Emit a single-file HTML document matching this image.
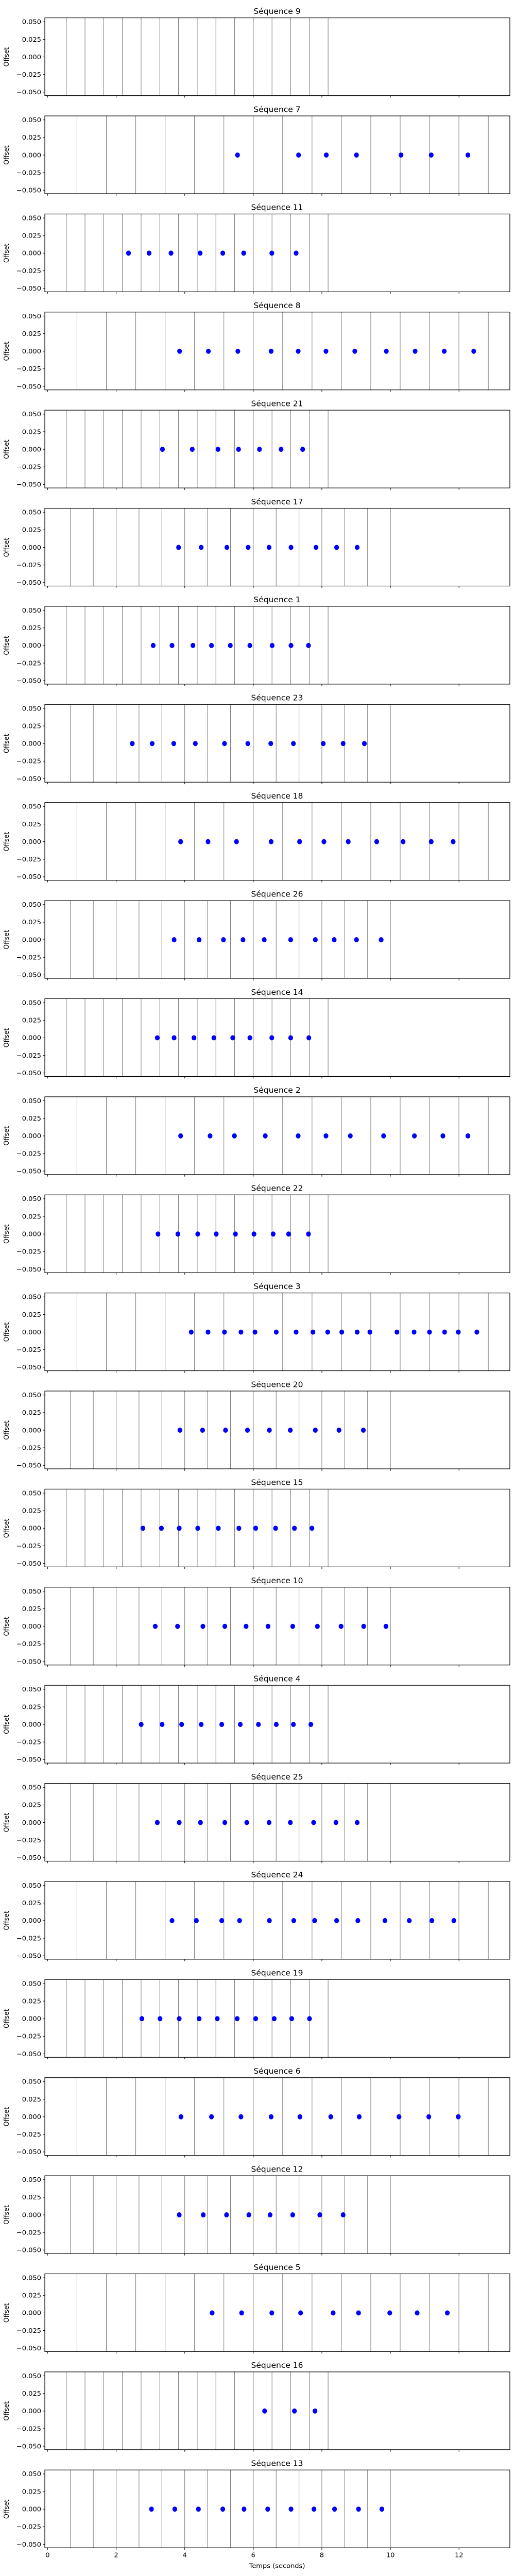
<!DOCTYPE html>
<html><head><meta charset="utf-8">
<style>
html,body{margin:0;padding:0;background:#fff;width:100vw;height:100vh;overflow:hidden;}
svg{display:block;position:absolute;left:0;top:0;width:100vw;height:100vh;font-family:"DejaVu Sans","Liberation Sans",sans-serif;}
</style></head>
<body>
<svg id="chart" viewBox="0 0 1000 5200" preserveAspectRatio="none" xmlns="http://www.w3.org/2000/svg"></svg>
<script>
const sequenceNames = ["9","7","11","8","21","17","1","23","18","26","14","2","22","3","20","15","10","4","25","24","19","6","12","5","16","13"];
const beatIntervals = [0.5455,0.857,0.5455,0.857,0.5455,0.6667,0.5455,0.6667,0.857,0.6667,0.5455,0.857,0.5455,0.857,0.6667,0.5455,0.6667,0.5455,0.6667,0.857,0.5455,0.857,0.6667,0.857,0.5455,0.6667];
const beatCount = 15;
const onsets = [
  [],
  [5.54,7.32,8.13,9.01,10.31,11.19,12.26],
  [2.36,2.96,3.60,4.45,5.11,5.72,6.54,7.25],
  [3.85,4.69,5.55,6.52,7.31,8.12,8.96,9.88,10.72,11.57,12.43],
  [3.35,4.22,4.97,5.57,6.18,6.81,7.44],
  [3.82,4.48,5.23,5.85,6.46,7.10,7.83,8.43,9.03],
  [3.08,3.63,4.24,4.78,5.33,5.90,6.55,7.10,7.61],
  [2.47,3.05,3.68,4.31,5.16,5.84,6.51,7.17,8.04,8.62,9.24],
  [3.88,4.68,5.51,6.52,7.35,8.06,8.77,9.60,10.37,11.19,11.83],
  [3.69,4.42,5.13,5.70,6.32,7.09,7.81,8.36,9.01,9.73],
  [3.20,3.69,4.27,4.85,5.40,5.90,6.54,7.09,7.62],
  [3.88,4.74,5.45,6.35,7.31,8.12,8.83,9.80,10.70,11.53,12.26],
  [3.22,3.80,4.38,4.92,5.48,6.02,6.58,7.03,7.61],
  [4.19,4.68,5.16,5.64,6.05,6.67,7.25,7.74,8.17,8.58,9.03,9.40,10.19,10.69,11.14,11.58,11.98,12.52],
  [3.86,4.52,5.19,5.83,6.47,7.08,7.81,8.50,9.21],
  [2.78,3.32,3.84,4.38,4.98,5.58,6.07,6.65,7.20,7.71],
  [3.14,3.79,4.53,5.17,5.79,6.43,7.15,7.87,8.56,9.22,9.87],
  [2.73,3.34,3.91,4.48,5.08,5.62,6.15,6.67,7.17,7.68],
  [3.20,3.84,4.46,5.17,5.81,6.46,7.08,7.76,8.41,9.03],
  [3.63,4.34,5.08,5.60,6.47,7.18,7.79,8.43,9.05,9.84,10.55,11.21,11.85],
  [2.75,3.28,3.84,4.42,4.95,5.53,6.07,6.61,7.12,7.64],
  [3.89,4.78,5.64,6.52,7.36,8.26,9.09,10.25,11.12,11.98],
  [3.84,4.54,5.22,5.87,6.49,7.15,7.94,8.62],
  [4.80,5.66,6.54,7.38,8.33,9.07,9.98,10.78,11.66],
  [6.33,7.20,7.80],
  [3.03,3.71,4.40,5.11,5.73,6.42,7.10,7.77,8.37,9.07,9.75]
];
const xTickValues = [0,2,4,6,8,10,12];
const yTickValues = [0.05,0.025,0,-0.025,-0.05];
const yTickLabels = ["0.050","0.025","0.000","\u22120.025","\u22120.050"];

const NS = "http://www.w3.org/2000/svg";
const svg = document.getElementById("chart");
const AX_L = 87, AX_R = 990, AX_H = 157, TOP0 = 36, PITCH = 198;
const xScale = t => 92.4 + 66.57 * t;
const yScale = (v, top) => top + 79 - v * 1420;

function mk(tag, attrs, parent) {
  const e = document.createElementNS(NS, tag);
  for (const k in attrs) e.setAttribute(k, attrs[k]);
  (parent || svg).appendChild(e);
  return e;
}

sequenceNames.forEach((name, i) => {
  const top = TOP0 + i * PITCH;
  const bottom = top + AX_H;
  const g = mk("g", {});
  
  

  for (let k = 1; k <= beatCount; k++) {
    const x = xScale(k * beatIntervals[i]);
    if (x >= AX_R) continue;
    const l = mk("line", {x1: x, x2: x, y1: top, y2: bottom, stroke: "#7a7a7a", "stroke-width": 1}, g);
    
    
  }
  onsets[i].forEach(t => {
    const p = mk("ellipse", {cx: xScale(t), cy: yScale(0, top), rx: 4.6, ry: 5.2, fill: "#0000ff"}, g);
    
    
  });
  const fr = mk("rect", {x: AX_L, y: top, width: AX_R - AX_L, height: AX_H, fill: "none", stroke: "#000", "stroke-width": 1.2}, g);
  
  
  const tt = mk("text", {x: 538, y: top - 8, "text-anchor": "middle", "font-size": 15.5, fill: "#000"}, g);
  tt.textContent = "Séquence " + name;
  
  
  yTickValues.forEach((v, j) => {
    const y = yScale(v, top);
    mk("line", {x1: AX_L - 4, x2: AX_L, y1: y, y2: y, stroke: "#000", "stroke-width": 1}, g);
    const tl = mk("text", {x: AX_L - 7, y: y + 4.5, "text-anchor": "end", "font-size": 13, fill: "#000"}, g);
    tl.textContent = yTickLabels[j];
    
    
  });
  const yl = mk("text", {x: 0, y: 0, "text-anchor": "middle", "font-size": 13, fill: "#000", transform: "translate(17," + (top + 79) + ") rotate(-90)"}, g);
  yl.textContent = "Offset";
  
  
  const last = i === sequenceNames.length - 1;
  xTickValues.forEach(v => {
    const x = xScale(v);
    mk("line", {x1: x, x2: x, y1: bottom, y2: bottom + 4, stroke: "#000", "stroke-width": 1}, g);
    if (last) {
      const xl = mk("text", {x: x, y: bottom + 19, "text-anchor": "middle", "font-size": 13, fill: "#000"}, g);
      xl.textContent = String(v);
      
      
    }
  });
  if (last) {
    const xt = mk("text", {x: 538, y: bottom + 41, "text-anchor": "middle", "font-size": 13, fill: "#000"}, g);
    xt.textContent = "Temps (seconds)";
    
    
  }
});
</script>
</body></html>
